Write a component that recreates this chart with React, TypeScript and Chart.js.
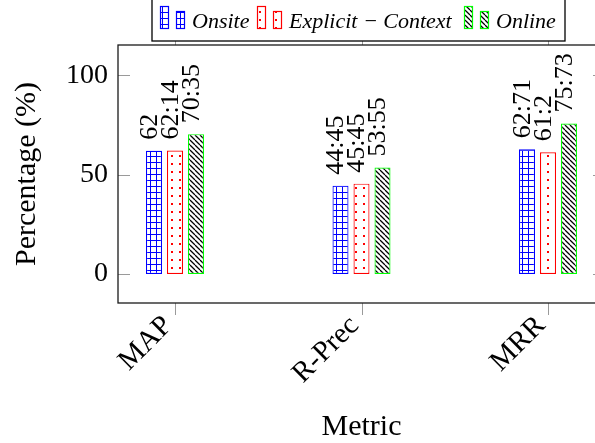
import React, { useEffect, useRef } from 'react';
import { Chart, registerables } from 'chart.js';

Chart.register(...registerables);

const categories = ['MAP', 'R-Prec', 'MRR'];
const seriesNames = ['Onsite', 'Explicit − Context', 'Online'];
const onsite = [62, 44.45, 62.71];
const explicitContext = [62.14, 45.45, 61.2];
const online = [70.35, 53.55, 75.73];
const yTicks = [0, 50, 100];
const yMin = -14.6;
const yMax = 115.2;
const xMin = -0.3056;
const xMax = 2.3056;

const FAMILY = "'Liberation Serif', 'Times New Roman', serif";
const BLUE = '#0000ff';
const RED = '#ff0000';
const GREEN = '#00ff00';

function makePattern(main: CanvasRenderingContext2D, kind: string): CanvasPattern {
  const c = document.createElement('canvas');
  const s = kind === 'grid' ? 6 : kind === 'dots' ? 8 : 5;
  c.width = s;
  c.height = s;
  const ctx = c.getContext('2d') as CanvasRenderingContext2D;
  ctx.fillStyle = '#ffffff';
  ctx.fillRect(0, 0, s, s);
  if (kind === 'grid') {
    ctx.fillStyle = BLUE;
    ctx.fillRect(0, 0, s, 1);
    ctx.fillRect(0, 0, 1, s);
  } else if (kind === 'dots') {
    ctx.fillStyle = RED;
    ctx.fillRect(3, 3, 2, 2);
  } else {
    ctx.strokeStyle = '#000000';
    ctx.lineWidth = 1.25;
    ctx.beginPath();
    for (const k of [-s, 0, s]) {
      ctx.moveTo(k, 0);
      ctx.lineTo(k + s, s);
    }
    ctx.stroke();
  }
  return main.createPattern(c, 'repeat') as CanvasPattern;
}

function fmt(v: number): string {
  return String(v).replace('.', ':');
}

export default function App() {
  const ref = useRef<HTMLCanvasElement | null>(null);

  useEffect(() => {
    const canvas = ref.current;
    if (!canvas) return;
    const mainCtx = canvas.getContext('2d') as CanvasRenderingContext2D;
    const pats = [makePattern(mainCtx, 'grid'), makePattern(mainCtx, 'dots'), makePattern(mainCtx, 'diag')];
    const borders = [BLUE, RED, GREEN];
    const values = [onsite, explicitContext, online];

    const labelPlugin = {
      id: 'valueLabels',
      afterDatasetsDraw(chart: any) {
        const ctx = chart.ctx;
        ctx.save();
        ctx.fillStyle = '#000';
        ctx.font = `26px ${FAMILY}`;
        ctx.textAlign = 'left';
        ctx.textBaseline = 'middle';
        values.forEach((arr, i) => {
          const meta = chart.getDatasetMeta(i);
          meta.data.forEach((bar: any, j: number) => {
            ctx.save();
            ctx.translate(bar.x - 4, bar.y - 11);
            ctx.rotate(-Math.PI / 2);
            ctx.fillText(fmt(arr[j]), 0, 0);
            ctx.restore();
          });
        });
        ctx.restore();
      },
    };

    const framePlugin = {
      id: 'frameLegend',
      afterDraw(chart: any) {
        const ctx = chart.ctx;
        const a = chart.chartArea;
        const xs = chart.scales.x;
        const ys = chart.scales.y;
        ctx.save();
        // ticks
        ctx.strokeStyle = '#9a9a9a';
        ctx.lineWidth = 1;
        ctx.beginPath();
        yTicks.forEach((v) => {
          const y = Math.round(ys.getPixelForValue(v)) + 0.5;
          ctx.moveTo(a.left, y);
          ctx.lineTo(a.left + 12, y);
          ctx.moveTo(a.right, y);
          ctx.lineTo(a.right - 12, y);
        });
        categories.forEach((_, i) => {
          const x = Math.round(xs.getPixelForValue(i)) + 0.5;
          ctx.moveTo(x, a.bottom);
          ctx.lineTo(x, a.bottom + 12);
          ctx.moveTo(x, a.top);
          ctx.lineTo(x, a.top - 12);
        });
        ctx.stroke();
        // frame
        ctx.strokeStyle = '#1a1a1a';
        ctx.lineWidth = 1.3;
        ctx.strokeRect(a.left, a.top, a.right - a.left, a.bottom - a.top);
        // legend
        const box = { l: 152, t: -2, r: 565, b: 41 };
        ctx.fillStyle = '#ffffff';
        ctx.fillRect(box.l, box.t, box.r - box.l, box.b - box.t);
        ctx.strokeStyle = '#000';
        ctx.lineWidth = 1.3;
        ctx.strokeRect(box.l, box.t, box.r - box.l, box.b - box.t);
        const starts = [160, 257, 464];
        ctx.font = `italic 22px ${FAMILY}`;
        ctx.textBaseline = 'alphabetic';
        ctx.textAlign = 'left';
        seriesNames.forEach((name, i) => {
          const x0 = starts[i];
          const icons = [
            { x: x0, top: 6, w: 9 },
            { x: x0 + 16, top: 11, w: 9 },
          ];
          icons.forEach((ic) => {
            ctx.fillStyle = pats[i];
            ctx.fillRect(ic.x, ic.top, ic.w, 29 - ic.top);
            ctx.strokeStyle = borders[i];
            ctx.lineWidth = 1.2;
            ctx.strokeRect(ic.x + 0.5, ic.top + 0.5, ic.w - 1, 29 - ic.top - 1);
          });
          ctx.fillStyle = '#000';
          ctx.fillText(name, x0 + 32, 28);
        });
        ctx.restore();
      },
    };

    const chart = new Chart(canvas, {
      type: 'bar',
      data: {
        datasets: values.map((arr, i) => ({
          label: seriesNames[i],
          data: arr.map((v, j) => ({ x: j, y: v })),
          backgroundColor: pats[i],
          borderColor: borders[i],
          borderWidth: 1.2,
          borderSkipped: false,
        })) as any,
      },
      options: {
        responsive: false,
        maintainAspectRatio: false,
        animation: false,
        layout: { padding: { top: 45, right: 15, left: 0, bottom: 0 } },
        datasets: { bar: { categoryPercentage: 0.3378, barPercentage: 0.762 } },
        plugins: { legend: { display: false }, tooltip: { enabled: false } },
        scales: {
          x: {
            type: 'linear',
            offset: false,
            min: xMin,
            max: xMax,
            grid: { display: false, drawTicks: false },
            border: { display: false },
            afterBuildTicks: (s: any) => {
              s.ticks = categories.map((_, i) => ({ value: i }));
            },
            afterFit: (s: any) => {
              s.height = 140;
            },
            ticks: {
              font: { family: FAMILY, size: 29 },
              color: '#000',
              minRotation: 45,
              maxRotation: 45,
              padding: 6,
              labelOffset: -7,
              autoSkip: false,
              includeBounds: false,
              callback: (v: any) => categories[Number(v)] ?? '',
            },
            title: {
              display: true,
              text: 'Metric',
              font: { family: FAMILY, size: 30 },
              color: '#000',
              padding: { top: 0, bottom: -2 },
            },
          },
          y: {
            min: yMin,
            max: yMax,
            grid: { display: false, drawTicks: false },
            border: { display: false },
            afterBuildTicks: (s: any) => {
              s.ticks = yTicks.map((v) => ({ value: v }));
            },
            afterFit: (s: any) => {
              s.width = 118;
            },
            ticks: {
              font: { family: FAMILY, size: 28 },
              color: '#000',
              padding: 10,
            },
            title: {
              display: true,
              text: 'Percentage (%)',
              font: { family: FAMILY, size: 30 },
              color: '#000',
              padding: { top: 9, bottom: 0 },
            },
          },
        },
      } as any,
      plugins: [labelPlugin, framePlugin],
    });
    return () => chart.destroy();
  }, []);

  return (
    <div
      style={{
        position: 'fixed',
        left: 0,
        top: 0,
        width: 595,
        height: 443,
        overflow: 'hidden',
        background: '#fff',
      }}
    >
      <canvas ref={ref} width={620} height={443} style={{ display: 'block' }} />
    </div>
  );
}
